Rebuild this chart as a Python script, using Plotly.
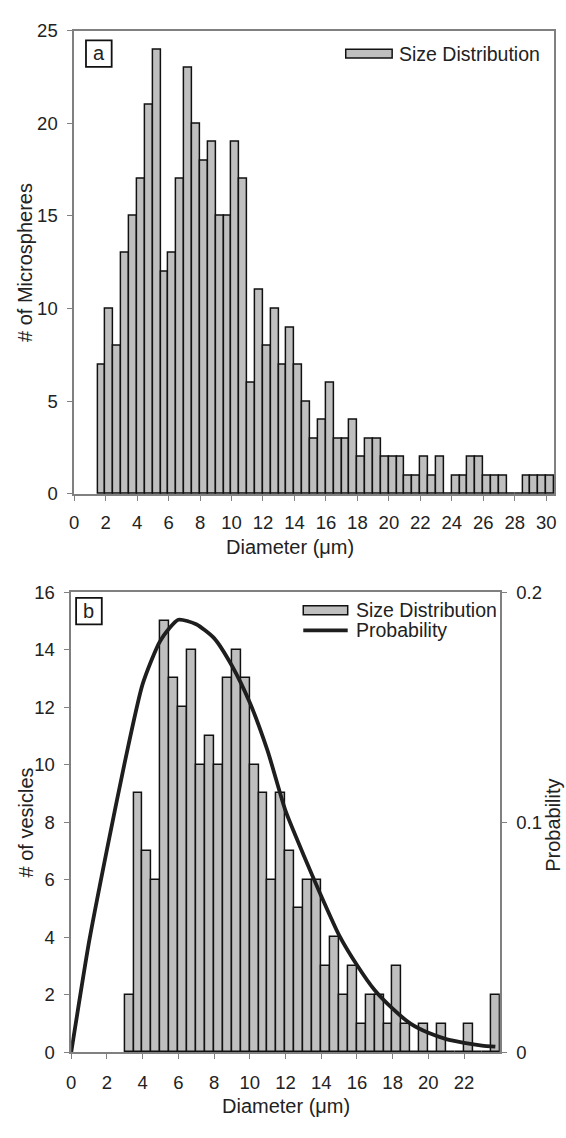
import plotly.graph_objects as go

W, H = 566, 1138

# ---------------- data: panel a (microspheres) ----------------
bin_left_a = [1.5, 2.0, 2.5, 3.0, 3.5, 4.0, 4.5, 5.0, 5.5, 6.0, 6.5, 7.0, 7.5, 8.0,
              8.5, 9.0, 9.5, 10.0, 10.5, 11.0, 11.5, 12.0, 12.5, 13.0, 13.5, 14.0,
              14.5, 15.0, 15.5, 16.0, 16.5, 17.0, 17.5, 18.0, 18.5, 19.0, 19.5, 20.0,
              20.5, 21.0, 21.5, 22.0, 22.5, 23.0, 23.5, 24.0, 24.5, 25.0, 25.5, 26.0,
              26.5, 27.0, 27.5, 28.0, 28.5, 29.0, 29.5, 30.0]
count_a = [7, 10, 8, 13, 15, 17, 21, 24, 12, 13, 17, 23, 20, 18, 19, 15, 15, 19, 17, 6,
           11, 8, 10, 7, 9, 7, 5, 3, 4, 6, 3, 3, 4, 2, 3, 3, 2, 2, 2, 1,
           1, 2, 1, 2, 0, 1, 1, 2, 2, 1, 1, 1, 0, 0, 1, 1, 1, 1]
xticks_a = [0, 2, 4, 6, 8, 10, 12, 14, 16, 18, 20, 22, 24, 26, 28, 30]
yticks_a = [0, 5, 10, 15, 20, 25]

# ---------------- data: panel b (vesicles) ----------------
bin_left_b = [3.0, 3.5, 4.0, 4.5, 5.0, 5.5, 6.0, 6.5, 7.0, 7.5, 8.0, 8.5, 9.0, 9.5,
              10.0, 10.5, 11.0, 11.5, 12.0, 12.5, 13.0, 13.5, 14.0, 14.5, 15.0, 15.5,
              16.0, 16.5, 17.0, 17.5, 18.0, 18.5, 19.0, 19.5, 20.0, 20.5, 21.0, 21.5,
              22.0, 22.5, 23.0, 23.5]
count_b = [2, 9, 7, 6, 15, 13, 12, 14, 10, 11, 10, 13, 14, 13, 10, 9, 6, 9, 7, 5,
           6, 6, 3, 4, 2, 3, 1, 2, 2, 1, 3, 1, 0, 1, 0, 1, 0, 0, 1, 0, 0, 2]
prob_x = [0, 1, 2, 3, 4, 5, 6, 7, 8, 9, 10, 11, 12, 13, 14, 15, 16, 17, 18, 19,
          20, 21, 22, 23, 23.75]
prob_y = [0, 0.048, 0.088, 0.126, 0.160, 0.179, 0.188, 0.186, 0.180, 0.168, 0.152,
          0.131, 0.105, 0.086, 0.068, 0.051, 0.038, 0.027, 0.019, 0.0125, 0.0085,
          0.0058, 0.0042, 0.003, 0.0025]
xticks_b = [0, 2, 4, 6, 8, 10, 12, 14, 16, 18, 20, 22]
yticks_b = [0, 2, 4, 6, 8, 10, 12, 14, 16]
yticks_b_right = [0, 0.1, 0.2]
yticks_b_right_text = ["0", "0.1", "0.2"]

# ---------------- styling ----------------
FONT = "Liberation Sans, Arial, Helvetica, sans-serif"
TXT = "#222222"
AX = "#808080"
BAR_FILL = "#bfbfbf"
BAR_LINE = "#111111"
TICKF = dict(family=FONT, size=18.5, color=TXT)


def px(x):
    return x / W


def py(y):
    return 1 - y / H


# plot areas (pixels)
A_L, A_R, A_T, A_B = 70, 556, 20, 492
B_L, B_R, B_T, B_B = 67, 501, 592, 1061

fig = go.Figure()

fig.add_trace(go.Bar(
    x=bin_left_a, y=count_a, width=0.5, offset=0,
    marker=dict(color=BAR_FILL, line=dict(color=BAR_LINE, width=1.5)),
    name="Size Distribution", xaxis="x", yaxis="y", showlegend=False,
))
fig.add_trace(go.Bar(
    x=bin_left_b, y=count_b, width=0.5, offset=0,
    marker=dict(color=BAR_FILL, line=dict(color=BAR_LINE, width=1.5)),
    name="Size Distribution", xaxis="x2", yaxis="y2", showlegend=False,
))
fig.add_trace(go.Scatter(
    x=prob_x, y=prob_y, mode="lines",
    line=dict(color="#1e1e1e", width=3.8, shape="spline", smoothing=0.6),
    name="Probability", xaxis="x2", yaxis="y3", showlegend=False,
))

common_axis = dict(
    showgrid=False, zeroline=False, showline=True, linecolor=AX, linewidth=1.5,
    ticks="outside", ticklen=5, tickcolor=AX, tickwidth=1.2, tickfont=TICKF,
    ticklabeloverflow="allow",
)

fig.update_layout(
    width=W, height=H,
    margin=dict(l=0, r=0, t=0, b=0),
    paper_bgcolor="white", plot_bgcolor="white",
    bargap=0,
    showlegend=False,
    font=dict(family=FONT, color=TXT),
    xaxis=dict(domain=[px(A_L), px(A_R)], range=[0, 30.5], tickvals=xticks_a,
               anchor="y", mirror=True, ticklabelstandoff=6, **common_axis),
    yaxis=dict(domain=[py(A_B), py(A_T)], range=[0, 25], tickvals=yticks_a,
               anchor="x", mirror=True, ticklabelstandoff=6, **common_axis),
    xaxis2=dict(domain=[px(B_L), px(B_R)], range=[0, 24], tickvals=xticks_b,
                anchor="y2", mirror=True, ticklabelstandoff=8, **common_axis),
    yaxis2=dict(domain=[py(B_B), py(B_T)], range=[0, 16], tickvals=yticks_b,
                anchor="x2", ticklabelstandoff=6, **common_axis),
    yaxis3=dict(range=[0, 0.2], tickvals=yticks_b_right, ticktext=yticks_b_right_text,
                overlaying="y2", side="right", anchor="x2", ticklabelstandoff=6,
                **common_axis),
)

ann = []
shapes = []


def text(x, y, s, size=20, xanchor="center", angle=0):
    ann.append(dict(x=px(x), y=py(y), xref="paper", yref="paper", text=s,
                    showarrow=False, xanchor=xanchor, yanchor="middle",
                    textangle=angle, font=dict(family=FONT, size=size, color=TXT)))


def rect(x0, y0, x1, y1, fill, lw=1.5, lc=BAR_LINE):
    shapes.append(dict(type="rect", xref="paper", yref="paper",
                       x0=px(x0), x1=px(x1), y0=py(y1), y1=py(y0),
                       fillcolor=fill, line=dict(color=lc, width=lw)))


# axis titles
text(289, 546, "Diameter (μm)")
text(21, 256, "# of Microspheres", angle=-90)
text(285, 1116, "Diameter (μm)")
text(21, 827, "# of vesicles", angle=-90)
text(555, 830, "Probability", angle=-90)

# panel labels
rect(82, 30, 108, 57, "white", lw=1.8)
text(95, 43, "a", size=20)
rect(72, 598, 98, 625, "white", lw=1.8)
text(85, 611, "b", size=20)

# legend panel a
rect(345, 39, 392, 48, BAR_FILL)
text(397, 43.5, "Size Distribution", size=19.5, xanchor="left")
# legend panel b
rect(302, 606, 347, 615, BAR_FILL)
text(353, 610.5, "Size Distribution", size=19.5, xanchor="left")
shapes.append(dict(type="line", xref="paper", yref="paper", x0=px(302), x1=px(347),
                   y0=py(631), y1=py(631), line=dict(color="#1e1e1e", width=3.8)))
text(353, 631, "Probability", size=19.5, xanchor="left")

fig.update_layout(annotations=ann, shapes=shapes)

fig.write_html(
    "out.html",
    config={"displayModeBar": False},
    post_script="document.body.style.margin='0';document.body.style.overflow='hidden';",
)
